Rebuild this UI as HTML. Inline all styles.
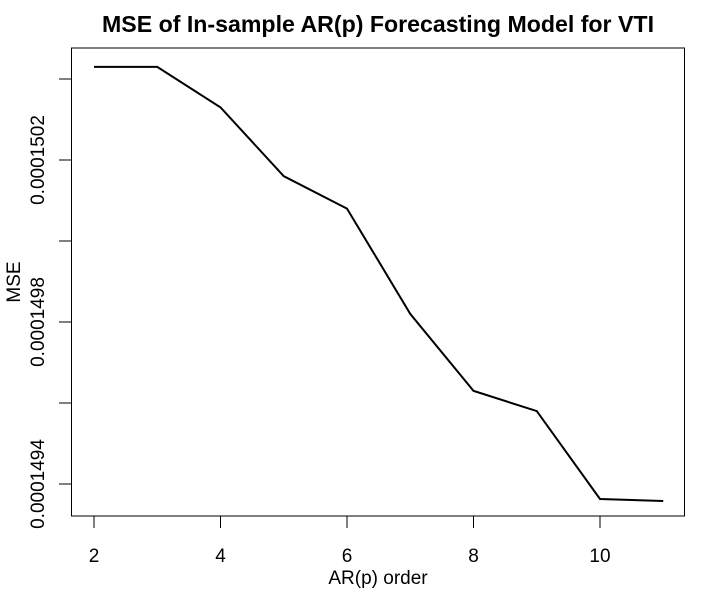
<!DOCTYPE html>
<html><head><meta charset="utf-8"><style>body{margin:0;background:#fff}svg{font-family:"Liberation Sans",Arial,sans-serif}</style></head>
<body>
<svg id="chart" width="710" height="590" xmlns="http://www.w3.org/2000/svg">
<rect width="710" height="590" fill="#fff"/>
<text x="378" y="32" text-anchor="middle" font-size="23" font-weight="bold" textLength="552" lengthAdjust="spacingAndGlyphs">MSE of In-sample AR(p) Forecasting Model for VTI</text>
<rect x="71.5" y="48" width="613" height="468" fill="none" stroke="#000" stroke-width="1"/>
<text x="378" y="584" text-anchor="middle" font-size="19">AR(p) order</text>
<text transform="translate(20,282) rotate(-90)" text-anchor="middle" font-size="19">MSE</text>
<g id="xaxis"></g>
<g id="yaxis"></g>
<path id="line" fill="none" stroke="#000" stroke-width="2"/>
</svg>
<script>
const orders=[2,3,4,5,6,7,8,9,10,11];
const mse=[0.00015043,0.00015043,0.00015033,0.00015016,0.00015008,0.00014982,0.00014963,0.00014958,0.000149363,0.000149358];
const xTicks=[2,4,6,8,10];
const yTickVals=[0.0001494,0.0001496,0.0001498,0.00015,0.0001502,0.0001504];
const yLabelVals=[0.0001494,0.0001498,0.0001502];
const yLabelText=["0.0001494","0.0001498","0.0001502"];
const X=v=>94+(v-2)*63.25;
const Y=v=>484-(v-0.0001494)/0.0000002*81;
const NS="http://www.w3.org/2000/svg";
function mk(t,a,p,txt){const e=document.createElementNS(NS,t);for(const k in a)e.setAttribute(k,a[k]);if(txt!==undefined)e.textContent=txt;p.appendChild(e);return e;}
const xa=document.getElementById('xaxis'),ya=document.getElementById('yaxis');
mk('line',{x1:X(2),x2:X(10),y1:516,y2:516,stroke:'#000'},xa);
xTicks.forEach(v=>{
 const l=mk('line',{x1:X(v),x2:X(v),y1:516,y2:528,stroke:'#000'},xa);
 
 
 const t=mk('text',{x:X(v),y:562,'text-anchor':'middle','font-size':19},xa,String(v));
 
 
});
mk('line',{x1:71.5,x2:71.5,y1:Y(yTickVals[0]),y2:Y(yTickVals[yTickVals.length-1]),stroke:'#000'},ya);
yTickVals.forEach(v=>{
 const l=mk('line',{x1:59,x2:71.5,y1:Y(v),y2:Y(v),stroke:'#000'},ya);
 
 
});
yLabelVals.forEach((v,i)=>{
 const t=mk('text',{transform:`translate(44,${Y(v)}) rotate(-90)`,'text-anchor':'middle','font-size':19},ya,yLabelText[i]);
 
 
});
document.getElementById('line').setAttribute('d',orders.map((o,i)=>(i?'L':'M')+X(o)+','+Y(mse[i])).join(' '));
</script>
</body></html>
